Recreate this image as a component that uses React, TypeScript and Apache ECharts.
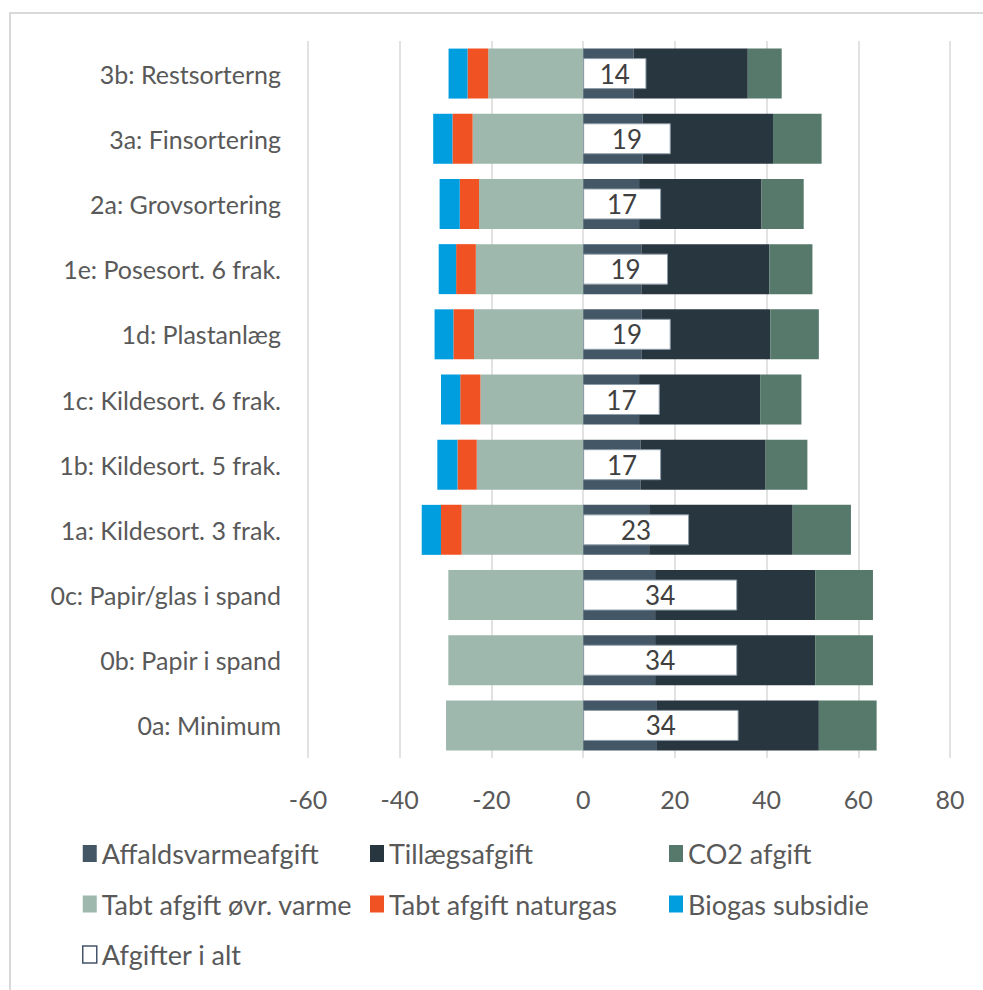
import React, { useEffect, useRef } from "react";
import * as echarts from "echarts";

// bottom-to-top order (category axis starts at the bottom)
const categories = [
  "0a: Minimum",
  "0b: Papir i spand",
  "0c: Papir/glas i spand",
  "1a: Kildesort. 3 frak.",
  "1b: Kildesort. 5 frak.",
  "1c: Kildesort. 6 frak.",
  "1d: Plastanlæg",
  "1e: Posesort. 6 frak.",
  "2a: Grovsortering",
  "3a: Finsortering",
  "3b: Restsorterng",
];
const affaldsvarme = [16.1, 15.7, 15.7, 14.4, 12.5, 12.2, 12.7, 12.7, 12.2, 13.0, 11.0];
const tillaeg = [35.3, 34.9, 34.9, 31.3, 27.3, 26.4, 28.1, 27.9, 26.7, 28.4, 24.9];
const co2 = [12.6, 12.6, 12.6, 12.7, 9.1, 9.0, 10.6, 9.4, 9.2, 10.6, 7.4];
const tabtVarme = [-29.9, -29.4, -29.4, -26.5, -23.2, -22.4, -23.8, -23.4, -22.7, -24.1, -20.7];
const tabtNaturgas = [null, null, null, -4.5, -4.2, -4.4, -4.5, -4.3, -4.2, -4.4, -4.5];
const biogas = [null, null, null, -4.2, -4.4, -4.2, -4.1, -3.8, -4.4, -4.2, -4.15];
const afgifterIAlt = [33.9, 33.6, 33.6, 23.1, 17.0, 16.7, 19.1, 18.5, 17.0, 19.1, 13.8];
const xTicks = { min: -60, max: 80, interval: 20 };

const FONT = "Lato";
const TXT = "#595959";

export default function App() {
  const ref = useRef<HTMLDivElement>(null);
  useEffect(() => {
    if (!ref.current) return;
    const chart = echarts.init(ref.current, null, { renderer: "svg" });
    const barW = 50;
    const legendText = { color: TXT, fontSize: 27, fontFamily: FONT };
    const legendBase = {
      top: 835,
      orient: "vertical",
      icon: "rect",
      itemWidth: 14,
      itemHeight: 17,
      itemGap: 23.5,
      textStyle: legendText,
    };
    const mk = (name: string, data: any[], color: string) => ({
      name,
      type: "bar",
      stack: "s",
      data,
      barWidth: barW,
      yAxisIndex: 0,
      itemStyle: { color },
    });
    chart.setOption({
      animation: false,
      textStyle: { fontFamily: FONT },
      grid: { left: 308, right: 33, top: 41, bottom: 232 },
      xAxis: {
        type: "value",
        min: xTicks.min,
        max: xTicks.max,
        interval: xTicks.interval,
        axisLine: { show: false },
        axisTick: { show: false },
        splitLine: { lineStyle: { color: "#d9d9d9", width: 1.5 } },
        axisLabel: { color: TXT, fontSize: 25, fontFamily: FONT, margin: 28 },
      },
      yAxis: [
        {
          type: "category",
          data: categories,
          axisLine: { show: false },
          axisTick: { show: false },
          axisLabel: { color: TXT, fontSize: 25, fontFamily: FONT, margin: 27 },
        },
        {
          type: "category",
          data: categories,
          show: false,
        },
      ],
      legend: [
        {
          ...legendBase,
          left: 77,
          data: [
            "Affaldsvarmeafgift",
            "Tabt afgift øvr. varme",
            { name: "Afgifter i alt", itemStyle: { color: "#fff", borderColor: "#44546a", borderWidth: 1.5 } },
          ],
        },
        {
          ...legendBase,
          left: 365,
          data: ["Tillægsafgift", "Tabt afgift naturgas"],
        },
        {
          ...legendBase,
          left: 664,
          data: ["CO2 afgift", "Biogas subsidie"],
        },
      ],
      series: [
        mk("Affaldsvarmeafgift", affaldsvarme, "#445766"),
        mk("Tillægsafgift", tillaeg, "#283640"),
        mk("CO2 afgift", co2, "#57796b"),
        mk("Tabt afgift øvr. varme", tabtVarme, "#9fb8ad"),
        mk("Tabt afgift naturgas", tabtNaturgas, "#f05223"),
        mk("Biogas subsidie", biogas, "#009edf"),
        {
          name: "Afgifter i alt",
          type: "bar",
          data: afgifterIAlt,
          yAxisIndex: 1,
          barWidth: 31,
          itemStyle: { color: "#ffffff", borderColor: "#8c9ca8", borderWidth: 1 },
          label: {
            show: true,
            position: "inside",
            color: "#404040",
            fontSize: 26,
            fontFamily: FONT,
            formatter: (p: any) => String(Math.round(p.value)),
          },
        },
      ],
    });
    return () => chart.dispose();
  }, []);
  return (
    <div style={{ position: "absolute", left: 0, top: 0, width: 983, height: 990, overflow: "hidden", background: "#fff" }}>
      <div
        style={{
          position: "absolute",
          left: 9,
          top: 12,
          width: 1200,
          height: 1200,
          borderTop: "2px solid #d9d9d9",
          borderLeft: "2px solid #d9d9d9",
        }}
      />
      <div ref={ref} style={{ position: "absolute", left: 0, top: 0, width: 983, height: 990 }} />
    </div>
  );
}
